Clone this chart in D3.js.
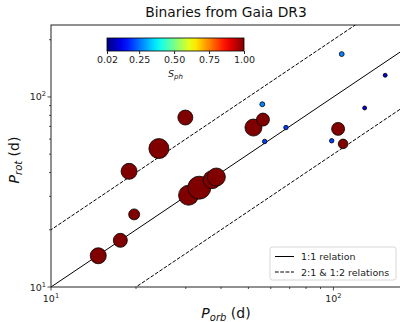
<!DOCTYPE html>
<html>
<head>
<meta charset="utf-8">
<script src="https://cdn.jsdelivr.net/npm/d3@7"></script>
<style>
  html, body { margin: 0; padding: 0; background: #fff; }
  svg { display: block; font-family: "DejaVu Sans", sans-serif; }
</style>
</head>
<body>
<svg id="chart" width="400" height="322"></svg>
<script>
// Orbital period (d) of each binary
const porb = [14.7, 17.6, 19.7, 18.9, 24.1, 29.9, 30.7, 33.5, 37.2, 38.5, 52.1, 56.3, 103.9, 108.2,
              56.0, 67.9, 57.1, 98.6, 107.0, 152.5, 129.0];
// Rotation period (d)
const prot = [14.6, 17.6, 24.1, 40.6, 53.5, 77.9, 30.4, 33.3, 36.7, 37.9, 69.0, 76.0, 67.9, 56.6,
              91.5, 69.0, 58.3, 58.8, 168.0, 130.0, 87.5];
// Photometric activity index S_ph
const sph = [1, 1, 1, 1, 1, 1, 1, 1, 1, 1, 1, 1, 1, 1,
             0.27, 0.2, 0.2, 0.2, 0.27, 0.1, 0.12];
// Relative spot amplitude (sets marker area)
const amp = [6.4, 4.9, 3.0, 6.4, 10.0, 5.6, 10.0, 13.2, 8.1, 8.1, 7.2, 4.2, 4.2, 2.3,
             0.6, 0.5, 0.5, 0.5, 0.6, 0.4, 0.4];
const sphTicks = [0.02, 0.25, 0.5, 0.75, 1.0];
const xMinor = [20, 30, 40, 50, 60, 70, 80, 90];
const yMinor = [20, 30, 40, 50, 60, 70, 80, 90, 200];
const relations = [
  { k: 1, label: "1:1 relation", dash: null },
  { k: 2, label: "2:1 & 1:2 relations", dash: "3.7,1.6" },
  { k: 0.5, label: null, dash: "3.7,1.6" }
];

// matplotlib-style jet colormap
function jet(t) {
  const c = v => Math.max(0, Math.min(1, v));
  const r = c(1.5 - Math.abs(4 * t - 3)), g = c(1.5 - Math.abs(4 * t - 2)), b = c(1.5 - Math.abs(4 * t - 1));
  return d3.rgb(r * 255, g * 255, b * 255).formatHex();
}

const svg = d3.select("#chart");
const L = 51, R = 401, T = 25, B = 287;
const x = d3.scaleLog().domain([10, 173.5]).range([L, R]);
const y = d3.scaleLog().domain([10, 239]).range([B, T]);
const cNorm = d3.scaleLinear().domain([0.02, 1.0]).range([0, 1]).clamp(true);
const rScale = d3.scaleSqrt().domain([0, 13.2]).range([0, 11.5]);

svg.append("defs").append("clipPath").attr("id", "plotclip")
  .append("rect").attr("x", L).attr("y", T).attr("width", R - L).attr("height", B - T);

const plot = svg.append("g").attr("clip-path", "url(#plotclip)");

// Period relation lines
relations.forEach(rel => {
  const xs = [10, 1000];
  plot.append("line")
    .attr("x1", x(xs[0] / 2)).attr("y1", y(rel.k * xs[0] / 2))
    .attr("x2", x(xs[1])).attr("y2", y(rel.k * xs[1]))
    .attr("stroke", "#000").attr("stroke-width", 1)
    .attr("stroke-dasharray", rel.dash);
});

// Binaries
const pts = porb.map((p, i) => ({ p, r: prot[i], s: sph[i], a: amp[i] }));
plot.selectAll("circle.pt").data(pts).join("circle")
  .attr("class", "pt")
  .attr("cx", d => x(d.p)).attr("cy", d => y(d.r))
  .attr("r", d => rScale(d.a))
  .attr("fill", d => jet(cNorm(d.s)))
  .attr("stroke", "#000").attr("stroke-width", 0.8);

// Axes frame
svg.append("rect").attr("x", L).attr("y", T).attr("width", R - L).attr("height", B - T)
  .attr("fill", "none").attr("stroke", "#222").attr("stroke-width", 1);

// Ticks
const axG = svg.append("g").attr("stroke", "#222").attr("stroke-width", 0.8);
[10, 100].forEach(v => {
  axG.append("line").attr("x1", x(v)).attr("x2", x(v)).attr("y1", B).attr("y2", B + 3.5);
  axG.append("line").attr("y1", y(v)).attr("y2", y(v)).attr("x1", L).attr("x2", L - 3.5);
});
xMinor.forEach(v => axG.append("line").attr("x1", x(v)).attr("x2", x(v)).attr("y1", B).attr("y2", B + 2));
yMinor.forEach(v => axG.append("line").attr("y1", y(v)).attr("y2", y(v)).attr("x1", L).attr("x2", L - 2));

function powLabel(g, exp) {
  const t = g.append("text").attr("font-size", 9.5).attr("fill", "#222");
  t.append("tspan").text("10");
  t.append("tspan").attr("font-size", 6.7).attr("dy", -4).text(exp);
  return t;
}
[[10, "1"], [100, "2"]].forEach(([v, e]) => {
  powLabel(svg, e).attr("x", x(v)).attr("y", B + 15).attr("text-anchor", "middle");
  powLabel(svg, e).attr("x", L - 5).attr("y", y(v) + 3.5).attr("text-anchor", "end");
});

// Axis labels
const xl = svg.append("text").attr("x", 226).attr("y", 318).attr("text-anchor", "middle")
  .attr("font-size", 14).attr("fill", "#111");
xl.append("tspan").attr("font-style", "italic").text("P");
xl.append("tspan").attr("font-style", "italic").attr("font-size", 10).attr("dy", 3).text("orb");
xl.append("tspan").attr("dy", -3).text(" (d)");

const yl = svg.append("text").attr("transform", "translate(19,160) rotate(-90)")
  .attr("text-anchor", "middle").attr("font-size", 14).attr("fill", "#111");
yl.append("tspan").attr("font-style", "italic").text("P");
yl.append("tspan").attr("font-style", "italic").attr("font-size", 10).attr("dy", 3).text("rot");
yl.append("tspan").attr("dy", -3).text(" (d)");

// Title
svg.append("text").attr("x", (L + R) / 2).attr("y", 17).attr("text-anchor", "middle")
  .attr("font-size", 13.8).attr("fill", "#111").text("Binaries from Gaia DR3");

// Colorbar
const cbX0 = 107, cbX1 = 244, cbY = 38, cbH = 13;
const grad = svg.select("defs").append("linearGradient").attr("id", "jetgrad");
d3.range(0, 1.0001, 0.05).forEach(t => grad.append("stop").attr("offset", t).attr("stop-color", jet(t)));
svg.append("rect").attr("x", cbX0).attr("y", cbY).attr("width", cbX1 - cbX0).attr("height", cbH)
  .attr("fill", "url(#jetgrad)").attr("stroke", "#000").attr("stroke-width", 0.8);
const cbScale = d3.scaleLinear().domain([0.02, 1.0]).range([cbX0, cbX1]);
const cbAxis = svg.append("g").attr("transform", `translate(0,${cbY + cbH})`)
  .call(d3.axisBottom(cbScale).tickValues(sphTicks).tickSize(3).tickPadding(2)
    .tickFormat(d3.format(".2f")));
cbAxis.select(".domain").remove();
cbAxis.selectAll("text").attr("font-size", 9.5).attr("font-family", "DejaVu Sans").attr("fill", "#222");
cbAxis.selectAll("line").attr("stroke", "#222");
const cl = svg.append("text").attr("x", (cbX0 + cbX1) / 2).attr("y", 77).attr("text-anchor", "middle")
  .attr("font-size", 9.5).attr("fill", "#222");
cl.append("tspan").attr("font-style", "italic").text("S");
cl.append("tspan").attr("font-style", "italic").attr("font-size", 7).attr("dy", 2).text("ph");

// Legend
const lg = svg.append("g");
lg.append("rect").attr("x", 270).attr("y", 247).attr("width", 126).attr("height", 33).attr("rx", 2.5)
  .attr("fill", "#fff").attr("fill-opacity", 0.8).attr("stroke", "#ccc").attr("stroke-width", 0.8);
relations.filter(r => r.label).forEach((rel, i) => {
  const yy = 256.5 + i * 15.5;
  lg.append("line").attr("x1", 275).attr("x2", 294).attr("y1", yy).attr("y2", yy)
    .attr("stroke", "#000").attr("stroke-width", 1).attr("stroke-dasharray", rel.dash);
  lg.append("text").attr("x", 301).attr("y", yy + 3.5).attr("font-size", 9.5).attr("fill", "#222").text(rel.label);
});
</script>
</body>
</html>
